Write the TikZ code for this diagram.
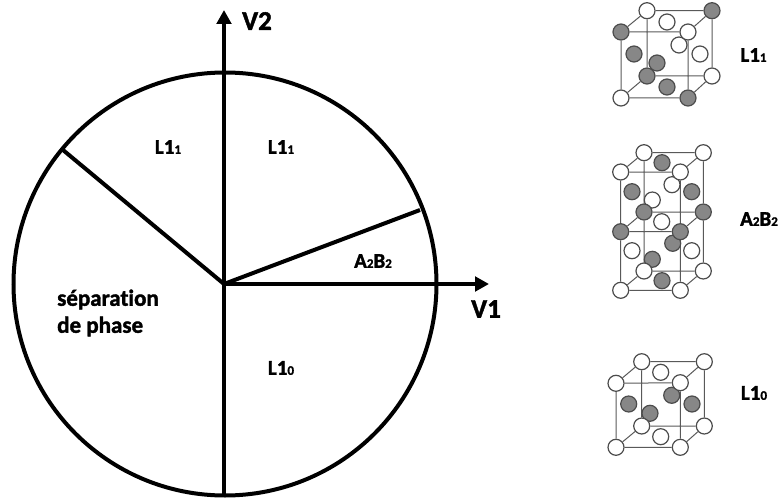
\documentclass[tikz,border=0pt]{standalone}
\usepackage{fontspec}
\setmainfont[Ligatures=CommonOff,BoldFeatures={FakeBold=1.6}]{Carlito}
\usetikzlibrary{arrows.meta,backgrounds}
\newcommand{\subdig}[1]{{\fontsize{13}{13}\selectfont #1}}
\tikzset{
  x=1pt,y=-1pt,
  bigline/.style={line width=4pt,black},
  axisarrow/.style={bigline,-{Triangle[length=14pt,width=14.5pt]}},
  axislabel/.style={font=\fontsize{27}{27}\selectfont\bfseries,inner sep=0pt},
  zonelabel/.style={font=\fontsize{21}{21}\selectfont\bfseries,inner sep=0pt,text=black,align=center},
  phaselabel/.style={font=\fontsize{23}{27}\selectfont\bfseries,inner sep=0pt,text=black,align=left},
  atomw/.style={circle,draw=black!70,line width=1.2pt,fill=white,minimum size=16pt,inner sep=0pt},
  atomg/.style={circle,draw=black!70,line width=1.2pt,fill=black!47,minimum size=16pt,inner sep=0pt},
  edge/.style={draw=black!65,line width=1pt},
}
\begin{document}
\begin{tikzpicture}
\useasboundingbox (0,0) rectangle (779,500);
% disc
\coordinate (O) at (224,284);
\coordinate (v1end) at (489,284);
\coordinate (v2end) at (224,10);
\coordinate (south) at (224,495);
\coordinate (a2b2end) at (420,210);
\coordinate (l11end) at (63,150);
\node[circle,draw,line width=4pt,minimum size=423pt,inner sep=0pt] (disc) at (225,284) {};
\draw[axisarrow] (south) -- (v2end);
\draw[axisarrow] (O) -- (v1end);
\draw[bigline] (O) -- (a2b2end);
\draw[bigline] (O) -- (l11end);
\node[axislabel] (lv2) at (257,21) {V2};
\node[axislabel] (lv1) at (486,309) {V1};
\node[zonelabel] (z1) at (168,147) {L1\subdig{1}};
\node[zonelabel] (z2) at (281,147) {L1\subdig{1}};
\node[zonelabel] (z3) at (373,261) {A\subdig{2}B\subdig{2}};
\node[zonelabel] (z4) at (281,368) {L1\subdig{0}};
\node[phaselabel,anchor=west] (z5) at (57,313) {séparation\\de phase};
% L1_1 cube
\node[atomg] (a5) at (667,87) {};
\node[atomw] (a6) at (667,22) {};
\node[atomg] (a7) at (634,54) {};
\node[atomw] (a8) at (700,54) {};
\node[atomg] (a9) at (657,63) {};
\node[atomw] (a10) at (679,45) {};
\node[atomw] (a1) at (647,10.7) {};
\node[atomg] (a2) at (712,10.7) {};
\node[atomg] (a3) at (621,32) {};
\node[atomw] (a4) at (688,32) {};
\node[atomw] (a11) at (621,98) {};
\node[atomg] (a12) at (688,98) {};
\node[atomg] (a13) at (647,76) {};
\node[atomw] (a14) at (712,76) {};
\begin{pgfonlayer}{background}
\draw[edge] (a1)--(a2) (a3)--(a4) (a1)--(a3) (a2)--(a4)
 (a11)--(a12) (a13)--(a14) (a11)--(a13) (a12)--(a14)
 (a1)--(a13) (a2)--(a14) (a3)--(a11) (a4)--(a12);
\end{pgfonlayer}
\node[zonelabel] (l1) at (753.5,55) {L1\subdig{1}};
% A2B2 cube
\node[atomg] (b1) at (662,162.7) {};
\node[atomg] (b2) at (632,191.7) {};
\node[atomg] (b3) at (691.7,191.7) {};
\node[atomw] (b4) at (672,184.7) {};
\node[atomw] (b5) at (652.3,200) {};
\node[atomw] (b6) at (661.7,221.7) {};
\node[atomg] (b7) at (672.7,243.3) {};
\node[atomw] (b8) at (632,250.7) {};
\node[atomw] (b9) at (691.7,250.7) {};
\node[atomg] (b10) at (652.3,259.3) {};
\node[atomg] (b11) at (662,280.7) {};
\node[atomw] (c1) at (644,152.7) {};
\node[atomw] (c2) at (703.3,152.7) {};
\node[atomw] (c3) at (620.7,172) {};
\node[atomw] (c4) at (680.3,172) {};
\node[atomg] (c5) at (644,212) {};
\node[atomg] (c6) at (703.3,212) {};
\node[atomg] (c7) at (620.7,231.7) {};
\node[atomg] (c8) at (680.3,231.7) {};
\node[atomw] (c9) at (644,271) {};
\node[atomw] (c10) at (703.3,271) {};
\node[atomw] (c11) at (620.7,290.3) {};
\node[atomw] (c12) at (680.3,290.3) {};
\begin{pgfonlayer}{background}
\draw[edge] (c1)--(c2) (c3)--(c4) (c1)--(c3) (c2)--(c4)
 (c5)--(c6) (c7)--(c8) (c5)--(c7) (c6)--(c8)
 (c9)--(c10) (c11)--(c12) (c9)--(c11) (c10)--(c12)
 (c1)--(c5) (c5)--(c9) (c2)--(c6) (c6)--(c10)
 (c3)--(c7) (c7)--(c11) (c4)--(c8) (c8)--(c12);
\end{pgfonlayer}
\node[zonelabel] (l2) at (759,219) {A\subdig{2}B\subdig{2}};
% L1_0 cube
\node[atomw] (d1) at (660.7,372.3) {};
\node[atomg] (d2) at (671.7,395.3) {};
\node[atomg] (d3) at (628.7,404) {};
\node[atomg] (d4) at (692,404) {};
\node[atomg] (d5) at (650,413.3) {};
\node[atomw] (d6) at (660.7,436.7) {};
\node[atomw] (e1) at (641.7,361.7) {};
\node[atomw] (e2) at (704.3,361.7) {};
\node[atomw] (e3) at (616,383.3) {};
\node[atomw] (e4) at (680.3,382.7) {};
\node[atomw] (e5) at (641.7,426) {};
\node[atomw] (e6) at (704.3,426) {};
\node[atomw] (e7) at (616,447.3) {};
\node[atomw] (e8) at (680.3,447.3) {};
\begin{pgfonlayer}{background}
\draw[edge] (e1)--(e2) (e3)--(e4) (e1)--(e3) (e2)--(e4)
 (e5)--(e6) (e7)--(e8) (e5)--(e7) (e6)--(e8)
 (e1)--(e5) (e2)--(e6) (e3)--(e7) (e4)--(e8);
\end{pgfonlayer}
\node[zonelabel] (l3) at (754,393) {L1\subdig{0}};
\end{tikzpicture}
\end{document}
